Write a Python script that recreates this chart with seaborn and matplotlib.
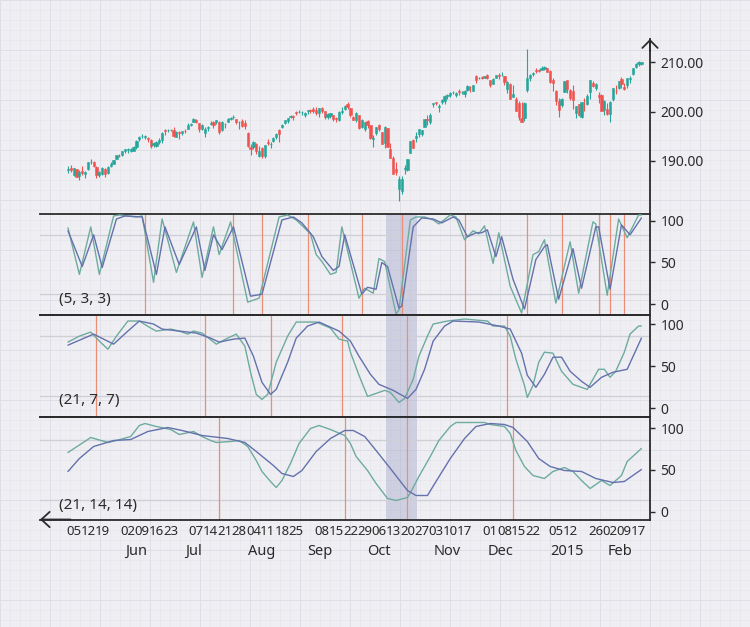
import numpy as np
import pandas as pd
import matplotlib
matplotlib.use("Agg")
import matplotlib.pyplot as plt
import matplotlib.transforms as mtransforms
import seaborn as sns

# ---------------- data ----------------
holidays = ["2014-05-26", "2014-07-04", "2014-09-01", "2014-11-27",
            "2014-12-25", "2015-01-01", "2015-01-19", "2015-02-16"]
sessions = pd.bdate_range("2014-05-01", "2015-02-18")
sessions = sessions[~sessions.isin(pd.to_datetime(holidays))]

opens = [188.2, 188.6, 187.2, 188.3, 187.0, 187.9, 187.3, 188.3, 189.8, 189.8,
         188.7, 187.2, 187.3, 188.4, 187.5, 188.9, 189.4, 190.4, 191.1, 191.3,
         192.0, 192.3, 192.1, 192.1, 192.9, 194.4, 195.0, 194.9, 194.6, 194.3,
         193.2, 193.1, 193.8, 194.2, 196.2, 196.2, 196.3, 196.2, 194.9, 195.9,
         195.6, 196.1, 196.5, 197.3, 197.9, 198.3, 197.6, 196.5, 195.6, 196.6,
         197.4, 197.9, 197.8, 197.8, 196.3, 197.4, 197.9, 198.4, 198.8, 198.4,
         197.9, 198.1, 197.7, 195.7, 192.8, 192.9, 193.5, 191.0, 192.6, 191.0,
         193.8, 193.4, 194.1, 194.9, 196.2, 196.8, 197.6, 198.1, 198.9, 199.1,
         199.9, 199.9, 200.0, 199.3, 200.1, 200.4, 200.6, 200.3, 199.8, 200.8,
         200.1, 198.9, 199.1, 199.4, 198.6, 198.3, 200.0, 200.6, 201.6, 200.7,
         198.9, 198.3, 199.4, 196.8, 196.5, 198.0, 197.2, 194.5, 195.7, 197.3,
         195.8, 193.6, 196.6, 192.5, 190.5, 188.4, 184.3, 184.0, 188.4, 188.1,
         191.7, 194.3, 194.6, 195.4, 195.5, 196.9, 198.4, 197.8, 201.5, 201.9,
         201.0, 202.0, 202.2, 203.2, 203.4, 203.9, 203.4, 204.1, 204.0, 203.6,
         204.3, 205.0, 204.2, 207.2, 206.7, 207.0, 206.8, 207.5, 206.3, 205.6,
         206.8, 207.4, 207.5, 207.3, 204.5, 205.6, 203.0, 202.6, 201.7, 198.6,
         198.6, 204.4, 206.9, 207.6, 208.5, 208.4, 208.4, 208.6, 208.8, 208.3,
         206.4, 204.2, 202.1, 201.4, 204.0, 206.4, 204.4, 204.1, 199.7, 201.6,
         198.8, 202.4, 201.5, 203.9, 205.8, 204.7, 203.3, 203.4, 200.4, 200.6,
         199.6, 202.5, 204.2, 204.7, 206.5, 205.0, 205.4, 206.6, 207.7, 209.0,
         209.6, 209.7]
highs = [189.0, 189.2, 188.5, 188.4, 188.2, 189.0, 187.9, 189.7, 190.3, 190.0,
         188.9, 187.9, 188.8, 188.6, 188.9, 189.7, 190.1, 191.2, 191.4, 192.0,
         192.4, 192.6, 192.6, 193.0, 194.3, 195.0, 195.5, 195.2, 194.8, 194.4,
         193.8, 194.0, 194.6, 195.9, 196.4, 196.5, 196.5, 196.8, 196.0, 196.0,
         196.1, 196.4, 197.6, 197.6, 198.6, 198.4, 197.7, 197.4, 196.8, 197.0,
         198.0, 198.1, 198.3, 198.0, 198.0, 197.6, 198.6, 198.8, 199.3, 198.5,
         198.1, 198.4, 198.2, 195.8, 193.5, 194.1, 193.6, 193.0, 192.8, 193.3,
         194.4, 193.9, 194.8, 195.6, 196.4, 197.4, 198.3, 198.7, 199.4, 199.3,
         200.2, 200.4, 200.2, 199.9, 200.4, 200.6, 200.9, 201.0, 200.8, 200.9,
         200.1, 199.7, 199.8, 199.4, 199.0, 200.1, 201.0, 201.3, 201.9, 200.8,
         199.1, 200.0, 199.4, 198.4, 197.9, 198.3, 197.3, 195.3, 196.9, 197.5,
         195.9, 197.0, 196.7, 193.6, 191.0, 189.8, 187.0, 187.0, 189.2, 190.4,
         194.1, 194.4, 195.9, 196.4, 196.3, 198.4, 199.3, 199.7, 201.8, 202.0,
         201.6, 202.6, 203.3, 203.6, 204.0, 204.1, 203.9, 204.5, 204.2, 204.3,
         205.3, 205.2, 205.3, 207.4, 207.0, 207.3, 207.3, 207.6, 206.4, 206.7,
         207.5, 207.8, 208.1, 207.3, 206.1, 205.7, 205.3, 202.9, 202.2, 202.0,
         202.0, 212.7, 207.7, 208.0, 208.8, 208.6, 209.2, 209.2, 208.9, 208.5,
         206.9, 204.4, 202.7, 202.7, 206.2, 206.4, 204.6, 205.3, 201.2, 201.6,
         202.0, 202.7, 203.6, 206.3, 206.1, 205.7, 203.9, 203.6, 202.3, 201.7,
         202.1, 204.8, 205.4, 206.2, 207.1, 205.7, 206.9, 207.3, 208.9, 209.8,
         210.2, 210.1]
lows = [187.6, 187.7, 186.9, 186.7, 186.2, 187.2, 186.6, 188.2, 189.4, 188.8,
        186.6, 186.8, 187.2, 186.7, 187.4, 188.8, 189.3, 190.3, 190.8, 191.1,
        191.6, 191.6, 191.9, 192.0, 192.4, 194.1, 194.7, 194.5, 193.9, 192.7,
        192.8, 192.9, 193.5, 193.7, 195.3, 195.8, 196.0, 194.8, 194.8, 194.5,
        195.3, 195.7, 196.4, 197.1, 197.8, 197.6, 195.9, 196.3, 194.8, 196.1,
        197.2, 196.6, 197.5, 195.5, 196.0, 196.6, 197.8, 198.2, 198.5, 197.4,
        196.4, 196.9, 196.4, 192.9, 191.3, 192.4, 191.5, 190.8, 190.5, 190.5,
        193.3, 192.7, 193.9, 194.4, 193.9, 196.6, 197.5, 197.6, 198.6, 198.2,
        199.3, 199.8, 199.4, 199.0, 199.6, 199.7, 199.8, 199.3, 198.9, 199.8,
        198.5, 198.5, 198.7, 198.1, 197.9, 198.1, 199.6, 200.4, 200.6, 198.9,
        198.2, 197.9, 196.5, 196.6, 196.0, 196.6, 194.4, 192.9, 195.3, 196.0,
        193.5, 192.6, 192.8, 190.5, 187.4, 187.2, 181.9, 183.4, 187.3, 187.9,
        191.6, 192.6, 193.9, 194.9, 195.1, 196.9, 197.3, 197.4, 200.9, 201.3,
        199.9, 201.6, 201.6, 202.6, 203.0, 203.5, 202.9, 203.3, 203.5, 203.0,
        204.2, 204.0, 204.2, 205.7, 206.5, 206.5, 206.7, 206.6, 204.9, 205.6,
        206.7, 206.5, 207.2, 205.3, 203.8, 202.5, 202.9, 200.1, 198.3, 197.9,
        198.1, 203.9, 206.2, 207.2, 207.8, 208.0, 208.4, 208.5, 208.0, 205.8,
        204.2, 201.4, 198.9, 200.9, 203.9, 203.7, 202.3, 200.5, 198.6, 199.2,
        198.6, 200.2, 201.3, 202.6, 205.0, 204.3, 201.7, 200.1, 199.3, 199.3,
        197.9, 202.2, 203.6, 204.6, 204.8, 204.4, 204.8, 205.8, 207.5, 208.8,
        209.3, 209.4]
closes = [188.4, 188.1, 188.5, 186.8, 187.8, 187.6, 187.8, 189.7, 189.8, 188.9,
          187.1, 187.8, 188.5, 187.3, 188.8, 189.3, 190.1, 191.2, 191.0, 192.0,
          192.4, 192.5, 192.4, 192.8, 194.0, 194.9, 195.1, 195.1, 194.4, 193.0,
          193.6, 193.8, 194.2, 195.7, 196.0, 196.3, 196.3, 195.0, 195.9, 195.7,
          196.1, 196.0, 197.3, 197.5, 198.5, 197.8, 196.4, 197.3, 196.5, 196.8,
          197.7, 197.3, 198.2, 195.8, 197.8, 197.4, 198.4, 198.7, 198.8, 197.8,
          197.9, 197.0, 197.0, 193.1, 192.5, 193.9, 192.0, 192.0, 190.9, 193.2,
          193.7, 193.4, 194.7, 195.5, 195.5, 197.2, 198.2, 198.6, 199.2, 198.8,
          199.8, 200.0, 200.0, 199.7, 200.3, 200.2, 200.1, 199.8, 200.8, 200.1,
          198.8, 199.6, 199.7, 198.5, 198.4, 199.9, 200.2, 201.1, 201.0, 199.4,
          198.3, 199.8, 196.6, 198.3, 197.8, 197.2, 194.6, 194.6, 196.8, 196.5,
          193.5, 196.9, 192.8, 190.6, 187.4, 187.7, 186.4, 186.3, 188.6, 190.4,
          194.1, 192.7, 195.0, 196.4, 196.2, 198.4, 198.2, 199.4, 201.7, 201.8,
          201.1, 202.3, 203.2, 203.3, 203.8, 204.0, 203.8, 203.9, 204.0, 204.1,
          205.2, 204.9, 205.3, 206.3, 206.9, 206.7, 207.3, 206.8, 205.3, 206.6,
          207.4, 207.2, 207.5, 206.0, 206.0, 202.6, 203.5, 200.2, 198.9, 197.9,
          201.8, 206.8, 207.5, 207.9, 208.3, 208.2, 208.9, 209.1, 208.1, 205.9,
          205.8, 202.1, 200.3, 202.6, 206.2, 204.5, 202.8, 202.3, 201.1, 199.3,
          202.0, 202.3, 203.2, 206.3, 205.2, 205.5, 203.0, 200.2, 202.1, 199.5,
          201.9, 204.8, 204.1, 206.1, 205.5, 204.6, 206.8, 206.9, 208.8, 209.7,
          210.0, 210.0]

# oscillator readings: session number -> value
k533_day = [0, 4, 8, 11, 16, 18, 21, 24, 26, 30, 33, 38, 44, 47, 51, 53, 57, 63, 67, 74,
            77, 80, 85, 87, 89, 92, 94, 96, 102, 104, 107, 109, 111, 115, 116, 120, 122, 125,
            128, 130, 134, 136, 139, 142, 144, 146, 149, 151, 155, 159, 163, 165, 167, 171,
            176, 179, 184, 185, 189, 193, 196, 200, 201]
k533_val = [87, 40, 88, 40, 99, 100, 99, 98, 99, 32, 96, 42, 93, 37, 88, 60, 93, 12, 16, 98,
            100, 95, 81, 60, 53, 40, 42, 88, 16, 26, 21, 56, 53, 0, 4, 95, 98, 98,
            95, 91, 100, 98, 75, 84, 81, 89, 51, 82, 28, 1, 60, 63, 75, 11,
            73, 21, 93, 91, 19, 96, 77, 100, 100]
d533_day = [0, 5, 9, 12, 17, 20, 26, 31, 34, 39, 45, 48, 51, 54, 58, 64, 68, 75, 79, 82,
            86, 89, 93, 95, 97, 103, 105, 108, 110, 112, 116, 117, 121, 124, 128, 131, 135,
            137, 140, 143, 145, 147, 150, 152, 156, 160, 164, 167, 168, 172, 177, 180, 185,
            186, 190, 194, 197, 201]
d533_val = [84, 48, 80, 47, 96, 99, 98, 40, 88, 50, 88, 44, 80, 65, 88, 18, 20, 95, 98, 92,
            78, 58, 44, 48, 80, 20, 27, 25, 52, 48, 6, 8, 88, 97, 96, 92, 98,
            95, 78, 82, 82, 85, 58, 78, 35, 5, 55, 68, 70, 15, 66, 26, 88,
            88, 25, 90, 80, 97]

k2177_day = [0, 4, 8, 11, 14, 17, 21, 25, 29, 31, 36, 39, 42, 44, 47, 52, 56, 59, 62, 64,
             66, 68, 70, 73, 77, 80, 87, 92, 95, 98, 99, 102, 105, 107, 111, 113, 116, 118,
             121, 123, 126, 128, 133, 139, 147, 149, 153, 155, 157, 160, 161, 163, 165, 167,
             170, 173, 177, 182, 184, 186, 188, 190, 192, 195, 197, 200, 201]
k2177_val = [74, 80, 84, 75, 67, 80, 95, 95, 88, 85, 87, 85, 82, 85, 83, 72, 78, 82, 70, 44,
             22, 17, 22, 54, 80, 94, 94, 88, 77, 75, 64, 41, 20, 22, 26, 24, 14, 18,
             37, 60, 80, 92, 95, 97, 95, 90, 90, 80, 57, 31, 19, 31, 54, 64,
             63, 45, 32, 27, 37, 47, 47, 39, 45, 64, 82, 90, 90]
d2177_day = [0, 9, 16, 21, 25, 30, 33, 39, 45, 50, 53, 58, 62, 65, 68, 71, 73, 77, 80, 84,
             88, 95, 99, 102, 106, 109, 114, 119, 122, 125, 128, 132, 135, 144, 151, 155,
             159, 161, 164, 167, 170, 173, 176, 180, 183, 187, 191, 196, 201]
d2177_val = [71, 82, 72, 85, 95, 92, 87, 85, 83, 78, 74, 77, 78, 60, 34, 22, 27, 54, 78, 90,
             94, 85, 75, 60, 42, 32, 26, 18, 27, 47, 75, 90, 95, 94, 90, 87,
             63, 41, 29, 42, 59, 59, 45, 35, 29, 39, 44, 47, 78]

k211414_day = [0, 8, 14, 17, 22, 25, 27, 31, 36, 39, 44, 47, 50, 52, 57, 60, 63, 66, 68, 71,
               73, 75, 78, 81, 85, 88, 92, 97, 99, 101, 105, 108, 112, 115, 119, 121, 123,
               127, 130, 134, 136, 146, 148, 153, 155, 157, 160, 163, 167, 170, 174, 177,
               180, 183, 187, 190, 194, 196, 201]
k211414_val = [67, 82, 77, 79, 83, 94, 96, 93, 90, 85, 88, 83, 79, 77, 78, 79, 73, 59, 48, 38,
               32, 39, 56, 76, 91, 94, 90, 84, 76, 63, 49, 36, 21, 19, 22, 32, 43,
               63, 79, 93, 97, 97, 95, 93, 86, 69, 53, 44, 41, 48, 52, 48,
               39, 31, 39, 34, 44, 58, 71]
d211414_day = [0, 4, 9, 16, 22, 28, 35, 40, 47, 56, 62, 66, 72, 75, 79, 82, 87, 92, 97, 100,
               104, 108, 113, 119, 122, 126, 129, 134, 139, 143, 148, 153, 156, 161, 165,
               169, 174, 180, 185, 191, 195, 201]
d211414_val = [48, 61, 73, 79, 80, 88, 92, 89, 84, 81, 77, 68, 54, 46, 43, 49, 68, 81, 89, 89,
               83, 69, 51, 29, 24, 24, 38, 61, 81, 93, 96, 95, 92, 78, 61,
               53, 49, 48, 41, 37, 38, 50]

signals_533 = ["2014-06-10", "2014-07-24", "2014-08-07", "2014-08-29", "2014-09-26",
               "2014-10-16", "2014-11-17", "2014-12-18", "2015-01-07", "2015-01-27",
               "2015-02-02", "2015-02-09"]
signals_2177 = ["2014-05-15", "2014-07-10", "2014-08-12", "2014-09-17", "2014-10-20",
                "2014-12-09"]
signals_211414 = ["2014-07-17", "2014-09-18", "2014-10-20", "2014-12-11"]
band_dates = ["2014-10-09", "2014-10-23"]

panel_labels = ["(5, 3, 3)", "(21, 7, 7)", "(21, 14, 14)"]
week_ticks = ["2014-05-05", "2014-05-12", "2014-05-19",
              "2014-06-02", "2014-06-09", "2014-06-16", "2014-06-23",
              "2014-07-07", "2014-07-14", "2014-07-21", "2014-07-28",
              "2014-08-04", "2014-08-11", "2014-08-18", "2014-08-25",
              "2014-09-08", "2014-09-15", "2014-09-22", "2014-09-29",
              "2014-10-06", "2014-10-13", "2014-10-20", "2014-10-27",
              "2014-11-03", "2014-11-10", "2014-11-17",
              "2014-12-01", "2014-12-08", "2014-12-15", "2014-12-22",
              "2015-01-05", "2015-01-12", "2015-01-26",
              "2015-02-02", "2015-02-09", "2015-02-17"]
month_names = ["Jun", "Jul", "Aug", "Sep", "Oct", "Nov", "Dec", "2015", "Feb"]
month_starts = ["2014-06-02", "2014-07-01", "2014-08-01", "2014-09-02", "2014-10-01",
                "2014-11-03", "2014-12-01", "2015-01-02", "2015-02-02"]
price_ticks = [190, 200, 210]
osc_ticks = [0, 50, 100]

# ---------------- style ----------------
sns.set_theme(style="white")
plt.rcParams["font.family"] = ["Noto Sans", "DejaVu Sans"]

UP, DOWN = "#26a69a", "#ef5350"
K_COL, D_COL = "#6dab9f", "#6471ad"
SIG_COL = "#ec8d76"
INK = "#2b2b2b"
BG = "#efeff3"

W, H = 750, 627
def rect(l, t, r, b):
    return [l / W, 1 - b / H, (r - l) / W, (b - t) / H]

def loc(dates):
    return [sessions.get_loc(pd.Timestamp(d)) for d in dates]

fig = plt.figure(figsize=(7.5, 6.27), dpi=100)
fig.patch.set_facecolor(BG)

# graph-paper background
bg = fig.add_axes([0, 0, 1, 1], zorder=-10)
bg.set_xlim(0, W)
bg.set_ylim(H, 0)
bg.axis("off")
bg.vlines(np.arange(0, W + 1, 10), 0, H, colors="#e5e5eb", lw=0.5)
bg.hlines(np.arange(0, H + 1, 10), 0, W, colors="#e5e5eb", lw=0.5)
bg.vlines(np.arange(0, W + 1, 50), 0, H, colors="#dedee6", lw=0.7)
bg.hlines(np.arange(0, H + 1, 50), 0, W, colors="#dedee6", lw=0.7)

XLIM = (-9.8, 204)
xs = np.arange(len(sessions))

# ---------------- price panel ----------------
axp = fig.add_axes(rect(40, 39, 650, 214))
axp.set_facecolor("none")
o, h, l, c = map(np.asarray, (opens, highs, lows, closes))
cols = np.where(c >= o, UP, DOWN)
axp.vlines(xs, l, h, colors=cols, lw=0.8, zorder=2)
axp.bar(xs, np.abs(c - o), bottom=np.minimum(o, c), width=0.78, color=cols,
        edgecolor=cols, linewidth=0.4, zorder=3)
axp.set_xlim(*XLIM)
axp.set_ylim(179.25, 214.7)
for s in ("left", "top", "bottom"):
    axp.spines[s].set_visible(False)
axp.spines["right"].set_color(INK)
axp.spines["right"].set_linewidth(1.3)
axp.yaxis.tick_right()
axp.set_yticks(price_ticks)
axp.set_yticklabels([f"{v:.2f}" for v in price_ticks])
axp.tick_params(axis="y", length=3.6, width=1, color=INK, pad=4,
                labelsize=10, labelcolor=INK)
axp.set_xticks([])
axp.annotate("", xy=(1, 1.0), xytext=(1, 0.93), xycoords="axes fraction",
             arrowprops=dict(arrowstyle="->,head_length=0.55,head_width=0.55",
                             color=INK, lw=1.3, shrinkA=0, shrinkB=0,
                             mutation_scale=10),
             annotation_clip=False)

# ---------------- oscillator panels ----------------
rects = [rect(40, 214, 650, 315), rect(40, 315, 650, 416.5), rect(40, 416.5, 650, 519.5)]
main_ylims = [(-1, 101), (0, 101), (0, 103)]
tick_ylims = [(-13.2, 108), (-9.8, 111), (-9.3, 113.9)]
series = [(k533_day, k533_val, d533_day, d533_val, signals_533),
          (k2177_day, k2177_val, d2177_day, d2177_val, signals_2177),
          (k211414_day, k211414_val, d211414_day, d211414_val, signals_211414)]
label_y = [0.15, 0.153, 0.14]
band = loc(band_dates)

axes = []
for i, (rc, (kd, kv, dd, dv, sig)) in enumerate(zip(rects, series)):
    ax = fig.add_axes(rc)
    ax.set_facecolor("none")
    ax.set_xlim(*XLIM)
    ax.set_ylim(*main_ylims[i])
    ax.axvspan(band[0] - 0.5, band[1] + 0.5, color="#a2a7c9", alpha=0.42, lw=0, zorder=1)
    for v in (20, 80):
        ax.axhline(v, color="#cfcfd7", lw=1.0, zorder=1.5)
    for p in loc(sig):
        ax.axvline(p, color=SIG_COL, lw=0.9, zorder=2)
    sns.lineplot(x=kd, y=kv, ax=ax, color=K_COL, lw=1.0, legend=False, zorder=3)
    sns.lineplot(x=dd, y=dv, ax=ax, color=D_COL, lw=1.0, legend=False, zorder=4)
    ax.set_xlabel("")
    ax.set_ylabel("")
    ax.set_yticks([])
    ax.spines["left"].set_visible(False)
    for s in ("top", "bottom", "right"):
        ax.spines[s].set_color(INK)
        ax.spines[s].set_linewidth(1.3)
    ax.text(0.031, label_y[i], panel_labels[i], transform=ax.transAxes,
            fontsize=11, color=INK, va="center", ha="left", zorder=6)
    tw = ax.twinx()
    tw.set_ylim(*tick_ylims[i])
    tw.set_yticks(osc_ticks)
    tw.set_yticklabels([str(v) for v in osc_ticks])
    for s in tw.spines.values():
        s.set_visible(False)
    tw.tick_params(axis="y", length=3.6, width=1, color=INK, pad=4,
                   labelsize=10, labelcolor=INK)
    tw.grid(False)
    ax.grid(False)
    axes.append(ax)

for ax in axes[:2]:
    ax.set_xticks([])

axb = axes[2]
axb.set_xticks(loc(week_ticks))
axb.set_xticklabels([pd.Timestamp(d).strftime("%d") for d in week_ticks])
axb.tick_params(axis="x", length=0, pad=4, labelsize=9.5, labelcolor=INK)
trans = mtransforms.blended_transform_factory(axb.transData, axb.transAxes)
for d, name in zip(loc(month_starts), month_names):
    axb.text(d - 1.0, -0.31, name, transform=trans, ha="left", va="center",
             fontsize=10.5, color=INK)
axb.annotate("", xy=(0.0, 0.0), xytext=(0.05, 0.0), xycoords="axes fraction",
             arrowprops=dict(arrowstyle="->,head_length=0.6,head_width=0.55",
                             color=INK, lw=1.3, shrinkA=0, shrinkB=0,
                             mutation_scale=10),
             annotation_clip=False)

fig.savefig("out.png", dpi=100, facecolor=BG)
